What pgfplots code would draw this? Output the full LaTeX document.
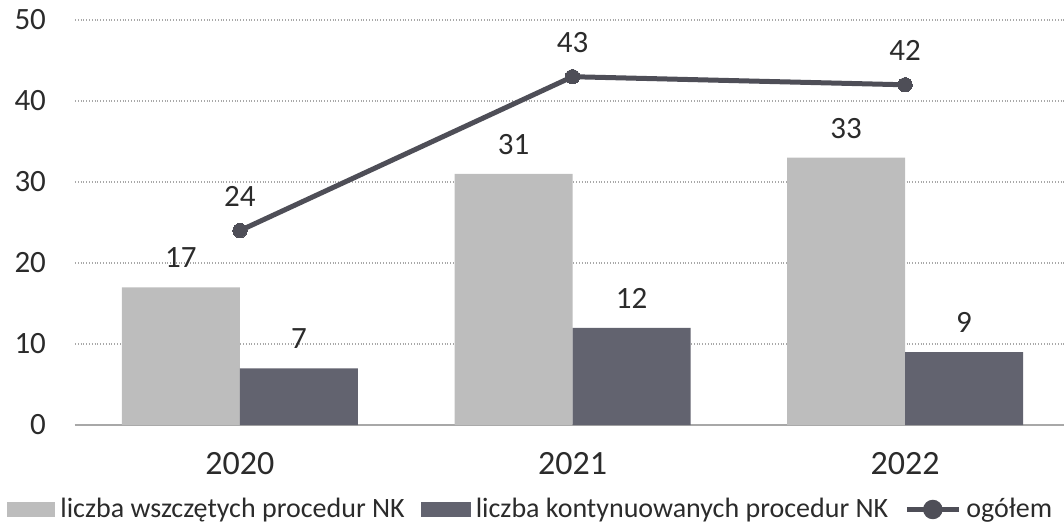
\documentclass[border=0pt]{standalone}
\usepackage{fontspec}
\setmainfont{Carlito}
\usepackage{pgfplots}
\pgfplotsset{compat=1.18}
\definecolor{lightbar}{HTML}{BDBDBD}
\definecolor{darkbar}{HTML}{62636F}
\definecolor{linec}{HTML}{4E4E57}
\definecolor{txt}{HTML}{2B2B2B}
\definecolor{gridc}{HTML}{A8A8A8}
\begin{document}
\begin{tikzpicture}
\begin{axis}[
  at={(0pt,0pt)}, anchor=south west, scale only axis,
  width=494.5pt, height=202.5pt,
  xmin=-0.496, xmax=2.478, ymin=0, ymax=50,
  axis lines*=left,
  y axis line style={draw=none},
  x axis line style={draw=gridc, line width=1pt, -},
  major tick length=0pt,
  xtick={0,1,2}, xticklabels={2020,2021,2022},
  ytick={0,10,20,30,40,50},
  ymajorgrids, grid style={densely dotted, gridc, line width=0.6pt},
  /pgf/number format/assume math mode=true,
  yticklabel style={font=\fontsize{15.5}{18}\selectfont, text=txt, anchor=east, xshift=-11pt},
  xticklabel style={font=\fontsize{17}{20}\selectfont, text=txt, anchor=north, yshift=-10pt},
  clip=false,
  legend columns=-1,
  legend style={at={(-0.0688,-0.2086)}, anchor=west, draw=none, fill=none,
    inner sep=0pt, font=\fontsize{14}{17}\selectfont, text=txt,
    nodes={inner sep=0pt},
    /tikz/every odd column/.append style={column sep=2.5pt},
    /tikz/every even column/.append style={column sep=8pt}},
]
\addplot[ybar, bar width=59pt, bar shift=-29.5pt, fill=lightbar, draw=none,
  nodes near coords, every node near coord/.append style={font=\fontsize{15.5}{18}\selectfont, text=txt, anchor=south, inner sep=0pt, yshift=9.5pt, xshift=-29.5pt},
  legend image code/.code={\fill[lightbar] (0pt,-3.75pt) rectangle (24pt,3.75pt);}]
  coordinates {(0,17) (1,31) (2,33)};
\addlegendentry{liczba wszczętych procedur NK}
\addplot[ybar, bar width=59pt, bar shift=29.5pt, fill=darkbar, draw=none,
  nodes near coords, every node near coord/.append style={font=\fontsize{15.5}{18}\selectfont, text=txt, anchor=south, inner sep=0pt, yshift=9.5pt, xshift=29.5pt},
  legend image code/.code={\fill[darkbar] (0pt,-3.75pt) rectangle (25pt,3.75pt);}]
  coordinates {(0,7) (1,12) (2,9)};
\addlegendentry{liczba kontynuowanych procedur NK}
\addplot[linec, line width=2.5pt, mark=*, mark size=3.6pt, mark options={fill=linec, draw=linec, line width=0pt},
  nodes near coords, every node near coord/.append style={font=\fontsize{15.5}{18}\selectfont, text=txt, anchor=south, inner sep=0pt, yshift=12pt},
  legend image code/.code={\draw[linec, line width=2.5pt] (0pt,0pt) -- (26pt,0pt); \fill[linec] (13pt,0pt) circle (3.6pt);}]
  coordinates {(0,24) (1,43) (2,42)};
\addlegendentry{ogółem}
\end{axis}
\pgfresetboundingbox
\path[use as bounding box] (-37.5pt,-49.5pt) rectangle (494.5pt,212.5pt);
\end{tikzpicture}
\end{document}
